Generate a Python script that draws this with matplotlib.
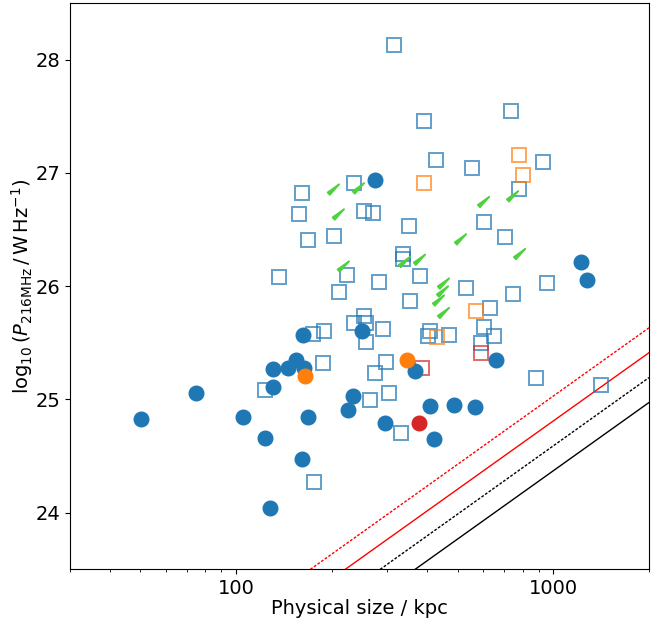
import numpy as np
import matplotlib
matplotlib.use('Agg')
import matplotlib.pyplot as plt
from matplotlib.ticker import FixedLocator, FixedFormatter, NullFormatter

# sizes (kpc) and log10 powers
circ_blue_D = [50.2, 74.8, 105.2, 123.5, 128.0, 130.8, 130.8, 145.9, 154.6, 163.9,
               162.7, 161.6, 168.7, 225.6, 233.9, 249.7, 295.1, 367.0, 409.3, 487.2,
               567.5, 421.4, 660.9, 274.5, 1217, 1280]
circ_blue_P = [24.83, 25.06, 24.84, 24.66, 24.04, 25.27, 25.11, 25.28, 25.35, 25.28,
               25.57, 24.47, 24.84, 24.91, 25.03, 25.60, 24.79, 25.25, 24.94, 24.95,
               24.93, 24.65, 25.35, 26.94, 26.21, 26.05]
circ_orange_D = [165.1, 346.1]
circ_orange_P = [25.21, 25.35]
circ_red_D = [377.7]
circ_red_P = [24.79]

sq_blue_D = [314.9, 737, 391.7, 427.4, 555.3, 929.5, 235.6, 161.6, 253.3, 270.5,
             158.0, 351.3, 168.7, 203.8, 336.3, 336.3, 380.4, 223.9, 136.7, 282.6,
             211.3, 353.9, 531.6, 605.8, 705.8, 781.0, 957.7, 747.9, 632.7, 174.9,
             189.5, 253.3, 235.6, 257.0, 257.0, 290.9, 409.3, 403.4, 469.8, 605.8,
             651.6, 592.9, 188.1, 297.3, 274.5, 303.9, 264.7, 123.5, 331.6, 176.2,
             883.7, 1417]
sq_blue_P = [28.13, 27.55, 27.46, 27.11, 27.04, 27.10, 26.91, 26.82, 26.66, 26.65,
             26.64, 26.53, 26.41, 26.44, 26.28, 26.24, 26.09, 26.10, 26.08, 26.04,
             25.95, 25.87, 25.98, 26.57, 26.43, 26.86, 26.03, 25.93, 25.81, 25.58,
             25.60, 25.74, 25.67, 25.67, 25.51, 25.62, 25.60, 25.56, 25.57, 25.64,
             25.56, 25.50, 25.32, 25.33, 25.23, 25.06, 24.99, 25.08, 24.70, 24.27,
             25.19, 25.13]
sq_orange_D = [781.0, 804.3, 391.7, 430.6, 571.6]
sq_orange_P = [27.16, 26.98, 26.91, 25.55, 25.78]
sq_red_D = [386.2, 592.9]
sq_red_P = [25.28, 25.41]

# lower limits (arrow tips)
lim_D = [219.2, 262.8, 227.2, 551.2, 235.6, 367.0, 409.3, 487.2, 483.7, 469.8,
         487.2, 651.6, 804.3, 846.1]
lim_P = [26.94, 26.95, 26.72, 26.50, 26.26, 26.30, 26.32, 26.11, 26.04, 25.96,
         25.85, 26.83, 26.88, 26.37]

# P ~ D^2 limit lines: intercepts
line_c = [19.03, 18.81, 18.59, 18.37]
line_col = ['red', 'red', 'black', 'black']
line_ls = ['--', '-', '--', '-']

fig = plt.figure(figsize=(6.67, 6.2), dpi=100)
ax = fig.add_axes([0.105, 0.082, 0.868, 0.913])
ax.set_xscale('log')

xx = np.array([30, 2000])
for c, col, ls in zip(line_c, line_col, line_ls):
    ax.plot(xx, 2 * np.log10(xx) + c, color=col, ls=ls, lw=1, dashes=(2, 1.2) if ls == '--' else (None, None))

for D, P, col in [(sq_blue_D, sq_blue_P, 'tab:blue'),
                  (sq_orange_D, sq_orange_P, 'tab:orange'),
                  (sq_red_D, sq_red_P, 'tab:red')]:
    ax.plot(D, P, 's', mfc='none', mec=col, ms=10, mew=1.4, alpha=0.7, ls='none')

for D, P, col in [(circ_blue_D, circ_blue_P, 'tab:blue'),
                  (circ_orange_D, circ_orange_P, 'tab:orange'),
                  (circ_red_D, circ_red_P, 'tab:red')]:
    ax.plot(D, P, 'o', color=col, ms=10.5, ls='none')

for d, p in zip(lim_D, lim_P):
    ax.annotate('', xy=(d, p), xytext=(-8, -7.2), textcoords='offset points',
                arrowprops=dict(arrowstyle='-|>,head_length=1.0,head_width=0.12',
                                color='#4fd13f', lw=1.2, shrinkA=0, shrinkB=0))

ax.set_xlim(30, 2000)
ax.set_ylim(23.5, 28.5)
ax.xaxis.set_major_locator(FixedLocator([100, 1000]))
ax.xaxis.set_major_formatter(FixedFormatter(['100', '1000']))
ax.xaxis.set_minor_formatter(NullFormatter())
ax.set_yticks([24, 25, 26, 27, 28])
ax.tick_params(labelsize=14)
ax.set_xlabel('Physical size / kpc', fontsize=14, labelpad=1)
ax.set_ylabel(r'$\log_{10}(P_{216\mathrm{MHz}}\,/\,\mathrm{W\,Hz^{-1}})$', fontsize=14, labelpad=0)

fig.savefig('out.png', dpi=100)
